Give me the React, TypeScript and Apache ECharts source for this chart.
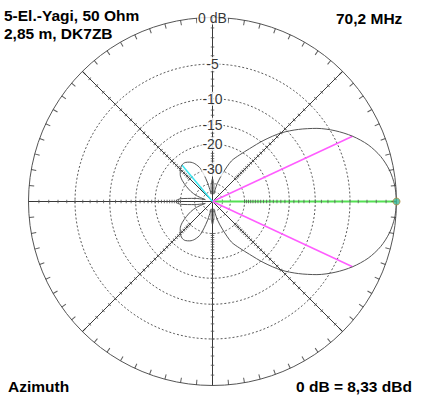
import React, { useEffect, useRef } from "react";
import * as echarts from "echarts";

// Azimuth pattern, 5 degree steps from 0 to 180 (pattern is symmetric)
const patternAngles = [0, 5, 10, 15, 20, 25, 30, 35, 40, 45, 50, 55, 60, 65, 70, 75, 80, 85, 90, 95, 100, 105, 110, 115, 120, 125, 130, 135, 140, 145, 150, 155, 160, 165, 170, 175, 180];
const patternDb = [0, -0.1, -0.4, -0.95, -1.8, -3.0, -4.5, -6.3, -8.5, -11.0, -14.3, -18.0, -21.2, -24.3, -31, -39, -55, -42, -36, -42, -55, -38, -28.5, -25.5, -24, -23.2, -23.2, -24, -25.3, -27.5, -31, -35, -41, -55, -40, -30, -27.5];

const ringDb = [-5, -10, -15, -20, -30, -40, -50];
const ringLabelDb = [0, -5, -10, -15, -20, -30];
const ringLabels = ["0 dB", "-5", "-10", "-15", "-20", "-30"];
const radialAngles = [0, 45, 90, 135, 180, 225, 270, 315];
const halfPowerAngles = [25, -25];
const halfPowerDb = -3;
const sideLobeAngle = 130;
const sideLobeDb = -23.2;
const mainLobeAngle = 0;

const titleLine1 = "5-El.-Yagi, 50 Ohm";
const titleLine2 = "2,85 m, DK7ZB";
const freqText = "70,2 MHz";
const modeText = "Azimuth";
const refText = "0 dB = 8,33 dBd";

const FONT = "'Liberation Sans', Arial, sans-serif";

// ARRL log-periodic scale: 2 dB per 0.89
const arrl = (db: number) => Math.pow(0.89, -db / 2);

export default function App() {
  const ref = useRef<HTMLDivElement>(null);
  useEffect(() => {
    if (!ref.current) return;
    const chart = echarts.init(ref.current, undefined, { renderer: "svg" });

    const fullPattern: number[][] = [];
    patternAngles.forEach((a, i) => fullPattern.push([arrl(patternDb[i]), a]));
    for (let i = patternAngles.length - 2; i >= 0; i--) {
      fullPattern.push([arrl(patternDb[i]), 360 - patternAngles[i]]);
    }

    const ringSeries = ringDb.map((db) => {
      const pts: number[][] = [];
      for (let a = 0; a <= 360; a += 2) pts.push([arrl(db), a]);
      return {
        type: "line",
        coordinateSystem: "polar",
        data: pts,
        showSymbol: false,
        silent: true,
        z: 1,
        lineStyle: { color: "#5a5a5a", width: 1, type: [2, 2] },
      };
    });

    // 1 dB ticks along the radial lines
    const tickData: any[] = [];
    radialAngles.forEach((a) => {
      for (let d = 1; d <= 30; d++) {
        tickData.push({ value: [arrl(-d), a], symbolRotate: a });
      }
    });
    // 5 degree ticks on the outer circle, pointing inward
    const rimTicks: any[] = [];
    for (let a = 0; a < 360; a += 5) {
      rimTicks.push({ value: [1 - 2.5 / 184, a], symbolRotate: a });
    }

    const option: any = {
      animation: false,
      backgroundColor: "#ffffff",
      polar: { center: [212.5, 201.5], radius: 184 },
      angleAxis: {
        type: "value",
        min: 0,
        max: 360,
        interval: 45,
        startAngle: 0,
        clockwise: false,
        axisLine: { show: true, lineStyle: { color: "#555", width: 1 } },
        axisTick: { show: false },
        minorTick: { show: false },
        axisLabel: { show: false },
        splitLine: { show: true, lineStyle: { color: "#3a3a3a", width: 1 } },
      },
      radiusAxis: { type: "value", min: 0, max: 1, show: false },
      series: [
        ...ringSeries,
        {
          type: "line",
          coordinateSystem: "polar",
          data: [[0, mainLobeAngle], [1, mainLobeAngle]],
          showSymbol: false,
          silent: true,
          z: 3,
          lineStyle: { color: "#55e055", width: 2 },
        },
        ...halfPowerAngles.map((a) => ({
          type: "line",
          coordinateSystem: "polar",
          data: [[0, a], [arrl(halfPowerDb), a]],
          showSymbol: false,
          silent: true,
          z: 4,
          lineStyle: { color: "#ff5cff", width: 1.5 },
        })),
        {
          type: "line",
          coordinateSystem: "polar",
          data: [[0, sideLobeAngle], [arrl(sideLobeDb), sideLobeAngle]],
          showSymbol: false,
          silent: true,
          z: 4,
          lineStyle: { color: "#3ae6f0", width: 1.5 },
        },
        {
          type: "line",
          coordinateSystem: "polar",
          data: fullPattern,
          showSymbol: false,
          silent: true,
          smooth: 0.3,
          z: 5,
          lineStyle: { color: "#555", width: 1 },
        },
        {
          type: "scatter",
          coordinateSystem: "polar",
          data: tickData,
          symbol: "rect",
          symbolSize: [1, 3.5],
          silent: true,
          z: 6,
          itemStyle: { color: "#555" },
        },
        {
          type: "scatter",
          coordinateSystem: "polar",
          data: rimTicks,
          symbol: "rect",
          symbolSize: [5, 1],
          silent: true,
          z: 6,
          itemStyle: { color: "#333" },
        },
        {
          type: "scatter",
          coordinateSystem: "polar",
          data: [[1, mainLobeAngle]],
          symbol: "circle",
          symbolSize: 7,
          silent: true,
          z: 8,
          itemStyle: { color: "#3cb89a", borderColor: "#b08a3a", borderWidth: 1 },
        },
        {
          type: "scatter",
          coordinateSystem: "polar",
          data: ringLabelDb.map((db, i) => ({ value: [arrl(db), 90], name: ringLabels[i] })),
          symbolSize: 1,
          silent: true,
          z: 10,
          itemStyle: { color: "rgba(0,0,0,0)" },
          label: {
            show: true,
            position: "inside",
            formatter: "{b}",
            fontSize: 14,
            fontFamily: FONT,
            color: "#000",
            backgroundColor: "#fff",
            padding: [0, 1],
          },
        },
      ],
      graphic: [
        { type: "text", x: 4, y: 15, style: { text: titleLine1, font: `bold 15.5px ${FONT}`, fill: "#000", verticalAlign: "middle" } },
        { type: "text", x: 4, y: 33, style: { text: titleLine2, font: `bold 15.5px ${FONT}`, fill: "#000", verticalAlign: "middle" } },
        { type: "text", x: 336, y: 18.5, style: { text: freqText, font: `bold 15.5px ${FONT}`, fill: "#000", verticalAlign: "middle" } },
        { type: "text", x: 8, y: 386, style: { text: modeText, font: `bold 15.5px ${FONT}`, fill: "#000", verticalAlign: "middle" } },
        { type: "text", x: 296, y: 386.5, style: { text: refText, font: `bold 15.5px ${FONT}`, fill: "#000", verticalAlign: "middle" } },
      ],
    };
    chart.setOption(option);
    return () => chart.dispose();
  }, []);
  return (
    <div
      ref={ref}
      style={{ position: "fixed", left: 0, top: 0, width: 425, height: 405, background: "#fff" }}
    />
  );
}
